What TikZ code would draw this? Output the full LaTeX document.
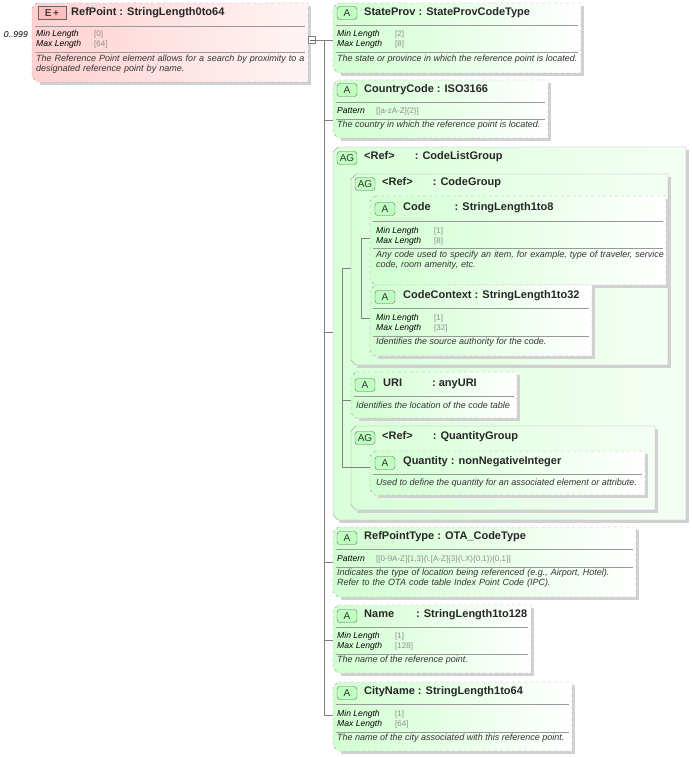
\documentclass[tikz,border=0pt]{standalone}
\usepackage{fontspec}
\setmainfont{Liberation Sans}
\hyphenpenalty=10000
\begin{document}
\begin{tikzpicture}[x=1pt,y=-1pt,
  attr/.style={draw=black!35,dashed,left color=green!18!white,right color=white},
  grp/.style={draw=black!35,left color=green!15!white,right color=green!4!white},
  elem/.style={draw=black!35,dashed,left color=red!18!white,right color=red!4!white},
  shad/.style={fill=black!18},
  hdr/.style={anchor=west,font=\fontsize{11}{12}\selectfont\bfseries,text=black!85,inner sep=0},
  lbl/.style={anchor=west,font=\fontsize{8.6}{9}\selectfont\itshape,inner sep=0},
  val/.style={anchor=west,font=\fontsize{8}{9}\selectfont,text=black!45,inner sep=0},
  dsc/.style={anchor=north west,font=\fontsize{9}{10}\selectfont\itshape,text=black!80,inner sep=0,align=left},
  badge/.style={draw=black!60,fill=green!25,rounded corners=3pt,minimum width=20pt,minimum height=13pt,inner sep=0,font=\fontsize{10}{10}\selectfont,text=black!80},
  sep/.style={black!40,line width=0.5pt},
  con/.style={black!50,line width=0.5pt}]
\useasboundingbox (0,0) rectangle (691,757);
\newcommand\bx[7]{%
  \fill[shad] (#2+8,#3+3) -- (#4+3,#3+3) -- (#4+3,#5+3) -- (#2+8,#5+3) -- cycle;
  \path[#6] (#2+5,#3) -- (#4,#3) -- (#4,#5) -- (#2+5,#5) -- (#2,#5-5) -- (#2,#3+5) -- cycle;
  \coordinate (#1) at (#2,#7);}
\newcommand\hsep[3]{\draw[sep] (#1+3,#3) -- (#2-3,#3);}
% element
\bx{refpoint}{32}{3}{308}{82}{elem}{40}
\coordinate (rpout) at (308,40);
\node[draw=black!60,fill=red!25,minimum width=28pt,minimum height=13pt,inner sep=0,font=\fontsize{10}{10}\selectfont\bfseries,text=black!75] at (52,13) {E\,+};
\node[hdr] at (71,13) {RefPoint : StringLength0to64};
\hsep{32}{308}{26}
\node[lbl] at (36,34) {Min Length}; \node[val] at (94,34) {[0]};
\node[lbl] at (36,44) {Max Length}; \node[val] at (94,44) {[64]};
\hsep{32}{308}{52}
\node[dsc,text width=272pt] at (36,55) {The Reference Point element allows for a search by proximity to a designated reference point by name.};
\node[anchor=east,font=\fontsize{8.6}{9}\selectfont\itshape,inner sep=0] at (28,35) {0..999};
\node[draw=black!50,fill=white,minimum size=7pt,inner sep=0] (mm) at (312,40) {};
\draw[black!60] (309.5,40) -- (314.5,40);
\coordinate (trunk) at (324,40);
% StateProv
\bx{sp}{333}{3}{581}{73}{attr}{40}
\node[badge] at (347,13) {A}; \node[hdr] at (364,13) {StateProv : StateProvCodeType};
\hsep{333}{581}{25}
\node[lbl] at (337,34) {Min Length}; \node[val] at (395,34) {[2]};
\node[lbl] at (337,44) {Max Length}; \node[val] at (395,44) {[8]};
\hsep{333}{581}{52}
\node[dsc] at (337,55) {The state or province in which the reference point is located.};
% CountryCode
\bx{cc}{333}{80}{548}{138}{attr}{120}
\node[badge] at (347,90) {A}; \node[hdr] at (364,90) {CountryCode : ISO3166};
\hsep{333}{548}{102}
\node[lbl] at (337,111) {Pattern}; \node[val] at (376,111) {[[a-zA-Z]\{2\}]};
\hsep{333}{548}{119}
\node[dsc] at (337,121) {The country in which the reference point is located.};
% CodeListGroup
\fill[shad] (339,151) rectangle (689,523);
\bx{clg}{333}{147}{686}{520}{grp}{332}
\node[badge] at (347,158) {AG}; \node[hdr] at (364,157) {<Ref>\hspace{20pt}: CodeListGroup};
\coordinate (t2) at (342,268);
% CodeGroup
\fill[shad] (357,178) rectangle (671,368);
\bx{cg}{351}{174}{668}{365}{grp}{268}
\node[badge] at (365,184) {AG}; \node[hdr] at (382,183) {<Ref>\hspace{20pt}: CodeGroup};
\coordinate (t3) at (361,238);
% Code
\bx{code}{370}{196}{666}{285}{attr}{238}
\node[badge] at (385,209) {A}; \node[hdr] at (403,208) {Code\hspace{24pt}: StringLength1to8};
\hsep{370}{666}{221}
\node[lbl] at (376,231) {Min Length}; \node[val] at (434,231) {[1]};
\node[lbl] at (376,241) {Max Length}; \node[val] at (434,241) {[8]};
\hsep{370}{666}{248}
\node[dsc,text width=288pt] at (376,251) {Any code used to specify an item, for example, type of traveler, service code, room amenity, etc.};
% CodeContext
\bx{ctx}{370}{285}{592}{356}{attr}{318}
\node[badge] at (385,297) {A}; \node[hdr] at (403,296) {CodeContext : StringLength1to32};
\hsep{370}{592}{308}
\node[lbl] at (376,318) {Min Length}; \node[val] at (434,318) {[1]};
\node[lbl] at (376,328) {Max Length}; \node[val] at (434,328) {[32]};
\hsep{370}{592}{336}
\node[dsc] at (376,338) {Identifies the source authority for the code.};
% URI
\bx{uri}{351}{372}{517}{418}{attr}{400}
\node[badge] at (365,385) {A}; \node[hdr] at (383,384) {URI\hspace{30pt}: anyURI};
\hsep{351}{517}{396}
\node[dsc] at (356,402) {Identifies the location of the code table};
% QuantityGroup
\fill[shad] (357,430) rectangle (658,513);
\bx{qg}{351}{426}{655}{510}{grp}{467}
\node[badge] at (365,438) {AG}; \node[hdr] at (382,437) {<Ref>\hspace{20pt}: QuantityGroup};
% Quantity
\bx{qty}{370}{451}{645}{495}{attr}{467}
\node[badge] at (385,463) {A}; \node[hdr] at (403,462) {Quantity : nonNegativeInteger};
\hsep{370}{645}{474}
\node[dsc] at (376,479) {Used to define the quantity for an associated element or attribute.};
% RefPointType
\bx{rpt}{333}{527}{636}{597}{attr}{562}
\node[badge] at (347,538) {A}; \node[hdr] at (364,537) {RefPointType : OTA\_CodeType};
\hsep{333}{636}{549}
\node[lbl] at (337,559) {Pattern}; \node[val] at (376,559) {[[0-9A-Z]\{1,3\}(\textbackslash.[A-Z]\{3\}(\textbackslash.X)\{0,1\})\{0,1\}]};
\hsep{333}{636}{567}
\node[dsc,text width=298pt] at (337,569) {Indicates the type of location being referenced (e.g., Airport, Hotel). Refer to the OTA code table Index Point Code (IPC).};
% Name
\bx{name}{333}{605}{531}{673}{attr}{640}
\node[badge] at (347,616) {A}; \node[hdr] at (364,615) {Name\hspace{22pt}: StringLength1to128};
\hsep{333}{531}{627}
\node[lbl] at (337,636) {Min Length}; \node[val] at (395,636) {[1]};
\node[lbl] at (337,646) {Max Length}; \node[val] at (395,646) {[128]};
\hsep{333}{531}{654}
\node[dsc] at (337,656) {The name of the reference point.};
% CityName
\bx{city}{333}{682}{572}{751}{attr}{715}
\node[badge] at (347,693) {A}; \node[hdr] at (364,692) {CityName : StringLength1to64};
\hsep{333}{572}{704}
\node[lbl] at (337,714) {Min Length}; \node[val] at (395,714) {[1]};
\node[lbl] at (337,724) {Max Length}; \node[val] at (395,724) {[64]};
\hsep{333}{572}{732}
\node[dsc] at (337,734) {The name of the city associated with this reference point.};
% connectors
\draw[con] (rpout) -- (mm.west);
\draw[con] (mm.east) -- (trunk) |- (city);
\foreach \n in {sp,cc,clg,rpt,name} \draw[con] (trunk |- \n) -- (\n);
\draw[con] (t2) |- (qg); \draw[con] (t2) -- (cg); \draw[con] (t2 |- uri) -- (uri);
\draw[con] (t3) |- (ctx); \draw[con] (t3) -- (code);
\draw[con] (qg) -- (qty);
\end{tikzpicture}
\end{document}
